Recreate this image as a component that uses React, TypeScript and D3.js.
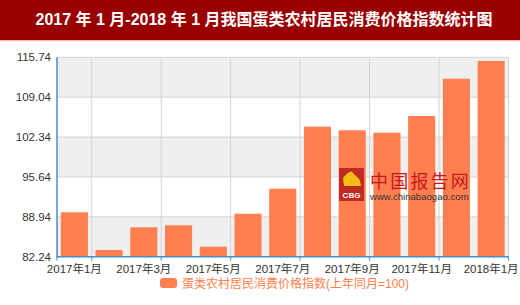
import React from "react";
import * as d3 from "d3";

const categories = [
  "2017年1月", "2017年2月", "2017年3月", "2017年4月", "2017年5月", "2017年6月",
  "2017年7月", "2017年8月", "2017年9月", "2017年10月", "2017年11月", "2017年12月", "2018年1月",
];
const values = [89.7, 83.37, 87.18, 87.52, 83.92, 89.46, 93.66, 104.08, 103.48, 103.07, 105.88, 112.14, 115.12];
const yTicks = [82.24, 88.94, 95.64, 102.34, 109.04, 115.74];
const seriesName = "蛋类农村居民消费价格指数(上年同月=100)";
const title = "2017 年 1 月-2018 年 1 月我国蛋类农村居民消费价格指数统计图";

const W = 520, H = 305;
const left = 57, right = 508.5, top = 57.3, bottom = 256.7;
const font = "'Liberation Sans', Arial, 'Noto Sans CJK SC', sans-serif";

export default function App() {
  const x = d3.scaleBand<string>().domain(categories).range([left, right]).paddingInner(0).paddingOuter(0);
  const y = d3.scaleLinear().domain([82.24, 115.74]).range([bottom, top]);
  const bw = x.bandwidth();
  const barW = bw * 0.78;
  const boundaries = d3.range(1, categories.length + 1, 2).map((i) => left + i * bw);

  return (
    <svg width={W} height={H} style={{ position: "absolute", left: 0, top: 0 }} fontFamily={font}>
      <rect x={0} y={0} width={W} height={H} fill="#fff" />
      <rect x={0} y={0} width={W} height={40} fill="#990000" />
      <rect x={0} y={40} width={W} height={1.2} fill="#f0b8b8" />
      <text x={W / 2 + 4} y={25} textAnchor="middle" fill="#fff" fontSize={16} fontWeight="bold">{title}</text>

      {/* split areas */}
      {yTicks.slice(0, -1).map((t, i) => (
        <rect key={"sa" + i} x={left} y={y(yTicks[i + 1])} width={right - left}
          height={y(t) - y(yTicks[i + 1])} fill={i % 2 === 0 ? "#efefef" : "#ffffff"} />
      ))}
      {/* horizontal grid */}
      {yTicks.map((t, i) => (
        <line key={"hg" + i} x1={left} x2={right} y1={y(t)} y2={y(t)} stroke="#d4d4d4" strokeWidth={1} />
      ))}
      {/* vertical grid */}
      {boundaries.map((bx, i) => (
        <line key={"vg" + i} x1={bx} x2={bx} y1={top} y2={bottom} stroke="#d4d4d4" strokeWidth={1} />
      ))}

      {/* bars */}
      {values.map((v, i) => (
        <rect key={"b" + i} x={(x(categories[i]) as number) + (bw - barW) / 2} y={y(v)}
          width={barW} height={bottom - y(v)} fill="#ff7f50" />
      ))}

      {/* watermark */}
      <g>
        <rect x={339} y={168} width={25} height={33} fill="#b8221e" opacity={0.9} />
        <path d="M343,178 Q350,170 352,172 L356,176 Q360,178 361,186 L344,186 Z" fill="#f5c518" opacity={0.95} />
        <text x={351.5} y={198} textAnchor="middle" fontSize={8} fontWeight="bold" fill="#fff">CBG</text>
        <text x={370} y={187.5} fontSize={18} fill="#c8161d" fontFamily="'Noto Sans CJK SC', sans-serif" letterSpacing={2.2}>中国报告网</text>
        <text x={370} y={200} fontSize={9.6} fill="#333">www.chinabaogao.com</text>
      </g>

      {/* axes */}
      <line x1={left} x2={left} y1={top} y2={bottom + 1} stroke="#4a8ec8" strokeWidth={1.5} />
      <line x1={left} x2={right} y1={bottom} y2={bottom} stroke="#4a8ec8" strokeWidth={1.5} />
      {[left, ...boundaries].map((bx, i) => (
        <line key={"xt" + i} x1={bx} x2={bx} y1={bottom} y2={bottom + 4} stroke="#4a8ec8" strokeWidth={1} />
      ))}

      {yTicks.map((t, i) => (
        <text key={"yl" + i} x={left - 6} y={y(t) + 4} textAnchor="end" fontSize={11.5} fill="#333">
          {t.toFixed(2)}
        </text>
      ))}
      {categories.map((c, i) =>
        i % 2 === 0 ? (
          <text key={"xl" + i} x={(x(c) as number) + bw / 2} y={bottom + 16} textAnchor="middle" fontSize={11.5} fill="#333">
            {c}
          </text>
        ) : null
      )}

      {/* legend */}
      <rect x={160} y={278} width={17} height={10} rx={3} fill="#ff7f50" />
      <text x={182} y={287.5} fontSize={12} fill="#ff7f50">{seriesName}</text>
    </svg>
  );
}
